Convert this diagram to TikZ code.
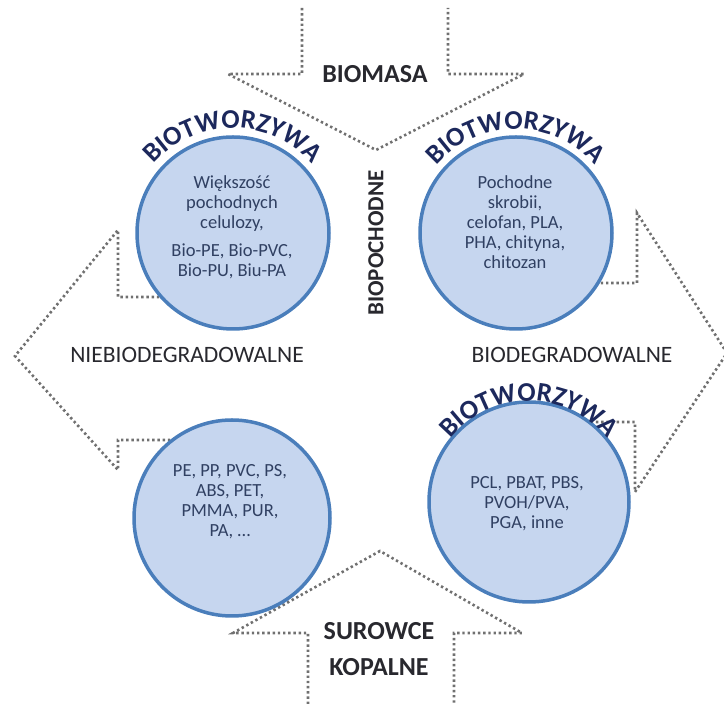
\documentclass[tikz,border=0pt]{standalone}
\usepackage{fontspec}
\setmainfont{Carlito}
\usetikzlibrary{calc,decorations.text}

\definecolor{dotgray}{RGB}{112,112,112}
\definecolor{circfill}{RGB}{198,214,239}
\definecolor{circedge}{RGB}{74,126,187}
\definecolor{circtext}{RGB}{48,64,98}
\definecolor{arctext}{RGB}{28,40,92}
\definecolor{labeltext}{RGB}{40,40,46}

\tikzset{
  dotline/.style={draw=dotgray, line width=2.6pt, dash pattern=on 2.4pt off 2.8pt},
  plastic/.style={circle, draw=circedge, line width=3.5pt, fill=circfill, minimum size=#1, inner sep=0pt},
  content/.style={text=circtext, align=center, font=\fontsize{18.5}{20}\selectfont},
  heading/.style={text=labeltext, align=center, font=\fontsize{26}{36}\selectfont\bfseries},
  side/.style={text=labeltext, font=\fontsize{23.5}{28}\selectfont},
  arclabel/.style={decorate, decoration={text along path, text align=center,
    text color=arctext, text={|\fontsize{27}{27}\selectfont\bfseries|BIOTWORZYWA}}}
}

\begin{document}
\begin{tikzpicture}[x=1pt, y=1pt]
  \useasboundingbox (0,0) rectangle (724,704);
  \clip (0,0) rectangle (724,704);

  % dotted block arrows
  \draw[dotline] (302,696) -- (302,630) -- (228,630) -- (376,554) -- (524,630) -- (448,630) -- (448,696);
  \draw[dotline] (308,0) -- (308,71) -- (233,71) -- (380,153) -- (522,71) -- (454,71) -- (454,0);
  \draw[dotline] (180,407) -- (118,407) -- (118,474) -- (15,348) -- (118,234) -- (118,264) -- (190,264);
  \draw[dotline] (580,421) -- (637,421) -- (637,491) -- (727,351) -- (635,212) -- (635,282) -- (570,282);

  % circles
  \node (tl) [plastic=192pt] at (233,471) {};
  \node (tr) [plastic=192pt] at (516,471) {};
  \node (bl) [plastic=196pt] at (232,186) {};
  \node (br) [plastic=200pt] at (529,202) {};

  % curved titles
  \path[arclabel] ($(tl.center)+(165:105)$) arc[start angle=165, end angle=15, radius=105];
  \path[arclabel] ($(tr.center)+(165:104)$) arc[start angle=165, end angle=15, radius=104];
  \path[arclabel] ($(br.center)+(165:101)$) arc[start angle=165, end angle=15, radius=101];

  % circle contents
  \node (tltext) [content] at (232,477) {Większość\\pochodnych\\celulozy,\\[8pt]Bio-PE, Bio-PVC,\\Bio-PU, Biu-PA};
  \node (trtext) [content] at (515,482) {Pochodne\\skrobii,\\celofan, PLA,\\PHA, chityna,\\chitozan};
  \node (bltext) [content] at (230,202) {PE, PP, PVC, PS,\\ABS, PET,\\PMMA, PUR,\\PA, …};
  \node (brtext) [content] at (527,200) {PCL, PBAT, PBS,\\PVOH/PVA,\\PGA, inne};

  % labels
  \node (biomasa) [heading] at (375,630) {BIOMASA};
  \node (kopalne) [heading] at (379,55) {SUROWCE\\KOPALNE};
  \node (biopoch) [heading, rotate=90, font=\fontsize{23}{23}\selectfont\bfseries] at (376,461) {BIOPOCHODNE};
  \node (niebio) [side] at (187,349) {NIEBIODEGRADOWALNE};
  \node (bio) [side] at (572,349) {BIODEGRADOWALNE};
\end{tikzpicture}
\end{document}
